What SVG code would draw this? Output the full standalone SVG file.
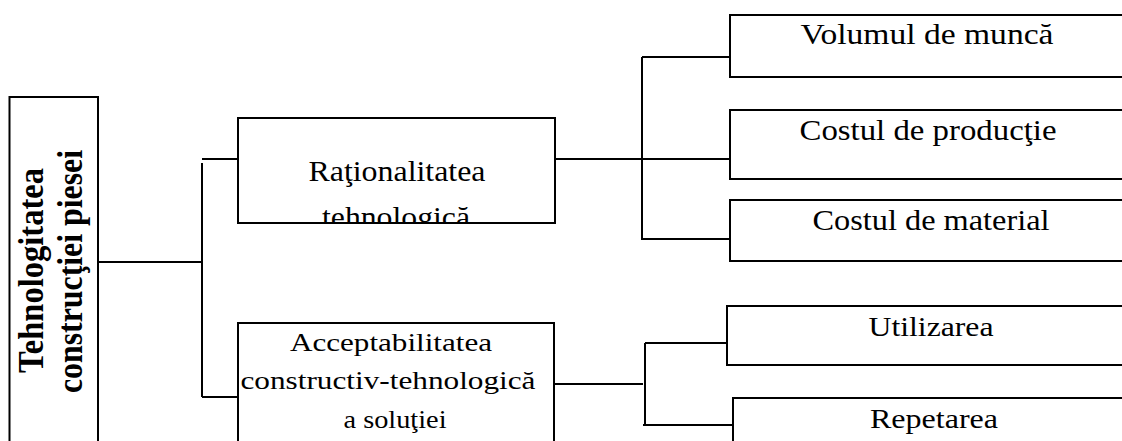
<svg xmlns="http://www.w3.org/2000/svg" width="1122" height="441" viewBox="0 0 1122 441">
<style>
.box{fill:#fff;stroke:#000;stroke-width:2}
.ln{fill:none;stroke:#000;stroke-width:2}
.t{font-family:"Liberation Serif","Times New Roman",serif;fill:#000;text-anchor:middle}
.b{font-weight:bold;font-size:32px}
</style>
<defs>
<clipPath id="clipRat"><rect x="238" y="118" width="317" height="105"/></clipPath>
</defs>
<rect width="1122" height="441" fill="#fff"/>
<g id="connectors">
<path class="ln" d="M98,262 H202"/>
<path class="ln" d="M202,163 V397"/>
<path class="ln" d="M202,159 H238"/>
<path class="ln" d="M202,397 H238"/>
<path class="ln" d="M555,159 H730"/>
<path class="ln" d="M642,57 V240"/>
<path class="ln" d="M642,57 H730"/>
<path class="ln" d="M642,239 H735"/>
<path class="ln" d="M554,384 H643"/>
<path class="ln" d="M645,343 V425"/>
<path class="ln" d="M645,343 H727"/>
<path class="ln" d="M643,425 H733"/>
</g>
<g id="root">
<rect class="box" x="9.5" y="97" width="88.5" height="400"/>
<text class="t b" transform="translate(43,270.5) rotate(-90) scale(1,1.1)" textLength="205" lengthAdjust="spacingAndGlyphs">Tehnologitatea</text>
<text class="t b" transform="translate(82,271.5) rotate(-90) scale(1,1.1)" textLength="243" lengthAdjust="spacingAndGlyphs">construcţiei piesei</text>
</g>
<g id="rationalitatea">
<rect class="box" x="238" y="118" width="317" height="105"/>
<text class="t" x="397" y="181" font-size="30" textLength="177" lengthAdjust="spacingAndGlyphs">Raţionalitatea</text>
<g clip-path="url(#clipRat)">
<text class="t" x="396" y="227" font-size="30" textLength="148" lengthAdjust="spacingAndGlyphs">tehnologică</text>
</g>
<path class="ln" d="M238,223 H555"/>
</g>
<g id="acceptabilitatea">
<rect class="box" x="238" y="323" width="316" height="200"/>
<text class="t" x="391" y="351" font-size="26" textLength="202" lengthAdjust="spacingAndGlyphs">Acceptabilitatea</text>
<text class="t" x="388" y="389" font-size="26" textLength="295" lengthAdjust="spacingAndGlyphs">constructiv-tehnologică</text>
<text class="t" x="395" y="428" font-size="26" textLength="103" lengthAdjust="spacingAndGlyphs">a soluţiei</text>
</g>
<g id="volumul">
<rect class="box" x="730" y="15" width="420" height="62"/>
<text class="t" x="927" y="44" font-size="30" textLength="253" lengthAdjust="spacingAndGlyphs">Volumul de muncă</text>
</g>
<g id="productie">
<rect class="box" x="730" y="110" width="420" height="69"/>
<text class="t" x="928" y="140" font-size="30" textLength="257" lengthAdjust="spacingAndGlyphs">Costul de producţie</text>
</g>
<g id="material">
<rect class="box" x="730" y="200" width="420" height="61"/>
<text class="t" x="931" y="230" font-size="30" textLength="237" lengthAdjust="spacingAndGlyphs">Costul de material</text>
</g>
<g id="utilizarea">
<rect class="box" x="727" y="306" width="420" height="59"/>
<text class="t" x="931" y="336" font-size="27" textLength="125" lengthAdjust="spacingAndGlyphs">Utilizarea</text>
</g>
<g id="repetarea">
<rect class="box" x="733" y="398" width="420" height="100"/>
<text class="t" x="934" y="428" font-size="27" textLength="128" lengthAdjust="spacingAndGlyphs">Repetarea</text>
</g>
</svg>
